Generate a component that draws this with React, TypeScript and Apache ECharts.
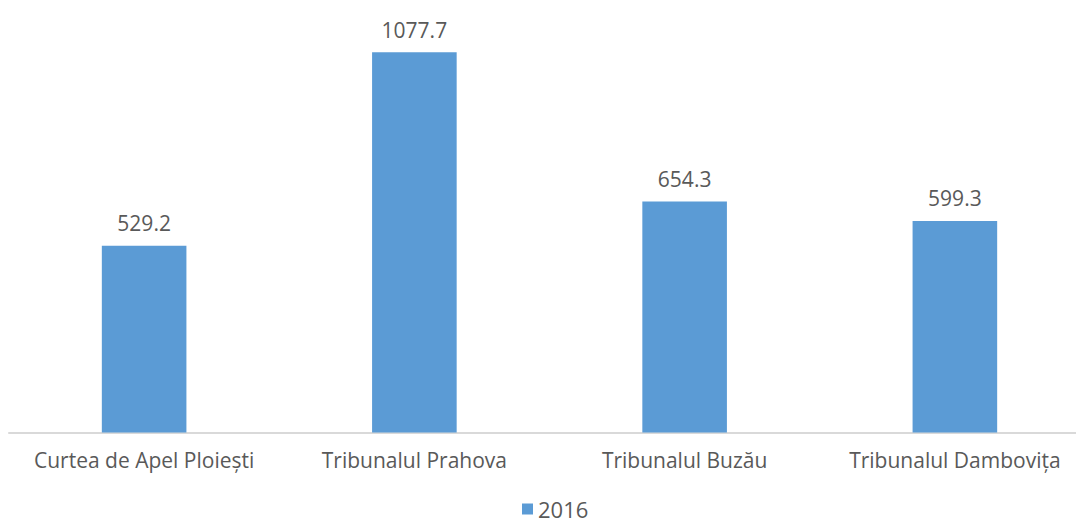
import React, { useEffect, useRef } from "react";
import * as echarts from "echarts";

const categories = [
  "Curtea de Apel Ploiești",
  "Tribunalul Prahova",
  "Tribunalul Buzău",
  "Tribunalul Dambovița",
];
const values2016 = [529.2, 1077.7, 654.3, 599.3];
const seriesName = "2016";

export default function App() {
  const ref = useRef<HTMLDivElement>(null);
  useEffect(() => {
    if (!ref.current) return;
    document.body.style.overflow = "hidden";
    const chart = echarts.init(ref.current, undefined, { renderer: "svg" });
    const font = "'Open Sans', sans-serif";
    chart.setOption({
      animation: false,
      backgroundColor: "#ffffff",
      grid: { left: 9, right: 0, top: 9, height: 423.5, containLabel: false },
      legend: {
        data: [seriesName],
        left: 522,
        top: 498,
        padding: 0,
        itemWidth: 11,
        itemHeight: 11,
        itemGap: 6,
        icon: "rect",
        textStyle: { color: "#595959", fontSize: 22, fontFamily: font, lineHeight: 22 },
      },
      xAxis: {
        type: "category",
        data: categories,
        axisLine: { lineStyle: { color: "#D9D9D9", width: 2 } },
        axisTick: { show: false },
        axisLabel: { color: "#595959", fontSize: 21, fontFamily: font, margin: 17, interval: 0 },
      },
      yAxis: {
        type: "value",
        min: 0,
        max: 1200,
        show: false,
        splitLine: { show: false },
      },
      series: [
        {
          name: seriesName,
          type: "bar",
          data: values2016,
          barWidth: "31.3%",
          itemStyle: { color: "#5B9BD5" },
          label: {
            show: true,
            position: "top",
            distance: 12,
            color: "#595959",
            fontSize: 21,
            fontFamily: font,
            formatter: (p: any) => p.value.toFixed(1),
          },
        },
      ],
    });
    return () => chart.dispose();
  }, []);
  return <div ref={ref} style={{ width: 1090, height: 524, position: "absolute", left: 0, top: 0 }} />;
}
